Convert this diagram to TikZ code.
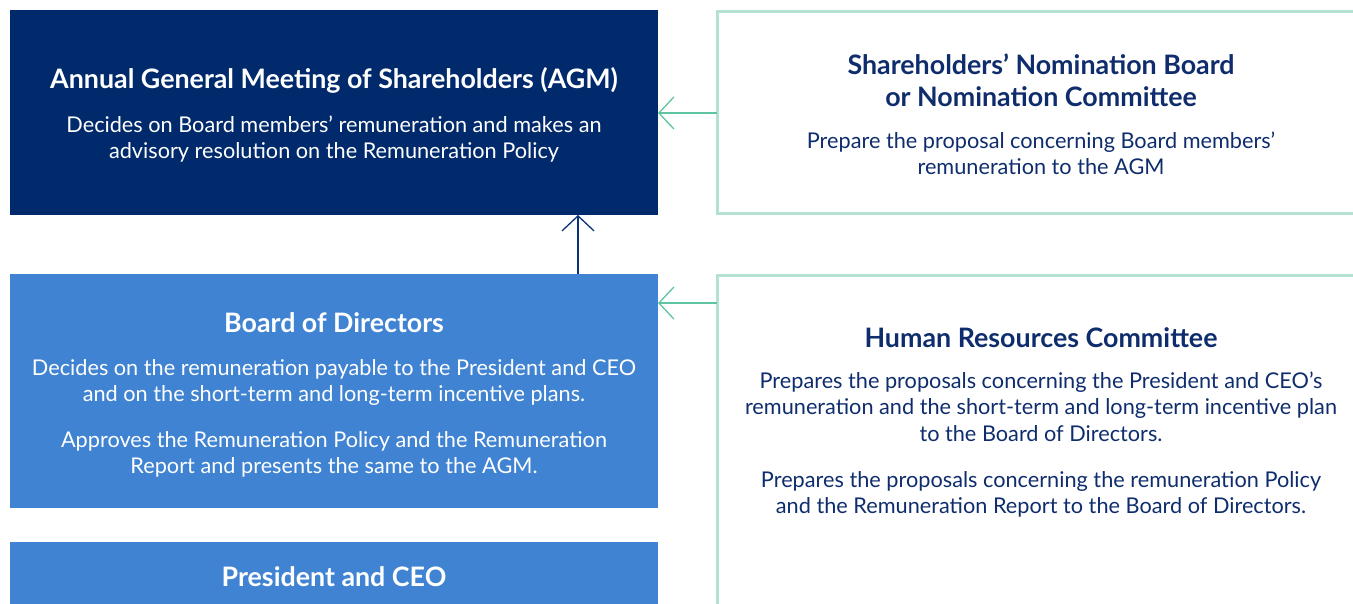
\documentclass[tikz,border=0pt]{standalone}
\usepackage{fontspec}
\setmainfont{Lato}
\usetikzlibrary{arrows.meta}
\definecolor{navybox}{HTML}{002A6C}
\definecolor{bluebox}{HTML}{3F83D2}
\definecolor{navytext}{HTML}{0F2D6D}
\definecolor{greenline}{HTML}{B3E2D3}
\definecolor{greenarrow}{HTML}{5EC4A1}
\definecolor{navyarrow}{HTML}{0B3278}
\tikzset{
  x=1pt, y=-1pt,
  fillbox/.style={draw=none, inner sep=0pt, outer sep=0pt},
  linebox/.style={draw=greenline, line width=3pt, inner sep=0pt, outer sep=0pt},
  ttl/.style={anchor=base, inner sep=0pt, font=\fontsize{26.8}{30}\selectfont\bfseries},
  bdy/.style={anchor=base, inner sep=0pt, font=\fontsize{21.7}{26}\selectfont},
  conn/.style={line width=1.3pt, -{Straight Barb[length=15pt,width=32pt]}},
}
\begin{document}
\begin{tikzpicture}
\useasboundingbox (0,0) rectangle (1353,604);
% boxes
\node[fillbox, fill=navybox, minimum width=648pt, minimum height=205pt, anchor=north west] (agm) at (10,10) {};
\node[fillbox, fill=bluebox, minimum width=648pt, minimum height=234pt, anchor=north west] (bod) at (10,274) {};
\node[fillbox, fill=bluebox, minimum width=648pt, minimum height=80pt, anchor=north west] (pres) at (10,542) {};
\begin{scope}
\clip (0,0) rectangle (1353,604);
\node[linebox, minimum width=660pt, minimum height=202pt, anchor=north west] (snb) at (717,11.5) {};
\node[linebox, minimum width=660pt, minimum height=360pt, anchor=north west] (hrc) at (717,275.5) {};
\end{scope}
% connectors
\coordinate (snbL) at (snb.west |- 0,113);
\coordinate (agmR) at (agm.east |- 0,113);
\draw[conn, greenarrow] (snbL) -- (agmR);
\coordinate (hrcL) at (hrc.west |- 0,303);
\coordinate (bodR) at (bod.east |- 0,303);
\draw[conn, greenarrow] (hrcL) -- (bodR);
\coordinate (bodT) at (bod.north -| 578,0);
\coordinate (agmB) at (agm.south -| 578,0);
\draw[conn, navyarrow] (bodT) -- (agmB);
% left texts
\begin{scope}[white]
\node[ttl] (t1) at (334,88.5) {Annual General Meeting of Shareholders (AGM)};
\node[bdy] (t2) at (334,132.5) {Decides on Board members’ remuneration and makes an};
\node[bdy] (t3) at (334,158.5) {advisory resolution on the Remuneration Policy};
\node[ttl] (t4) at (334,333) {Board of Directors};
\node[bdy] (t5) at (334,375.5) {Decides on the remuneration payable to the President and CEO};
\node[bdy] (t6) at (334,401.5) {and on the short-term and long-term incentive plans.};
\node[bdy] (t7) at (334,447) {Approves the Remuneration Policy and the Remuneration};
\node[bdy] (t8) at (334,473) {Report and presents the same to the AGM.};
\node[ttl] (t9) at (334,586) {President and CEO};
\end{scope}
% right texts
\begin{scope}[navytext]
\node[ttl] (s1) at (1041,74.5) {Shareholders’ Nomination Board};
\node[ttl] (s2) at (1041,106.5) {or Nomination Committee};
\node[bdy] (s3) at (1041,148.5) {Prepare the proposal concerning Board members’};
\node[bdy] (s4) at (1041,174.5) {remuneration to the AGM};
\node[ttl] (h1) at (1041,347.5) {Human Resources Committee};
\node[bdy] (h2) at (1041,388.5) {Prepares the proposals concerning the President and CEO’s};
\node[bdy] (h3) at (1041,414.5) {remuneration and the short-term and long-term incentive plan};
\node[bdy] (h4) at (1041,441.5) {to the Board of Directors.};
\node[bdy] (h5) at (1041,487.5) {Prepares the proposals concerning the remuneration Policy};
\node[bdy] (h6) at (1041,513.5) {and the Remuneration Report to the Board of Directors.};
\end{scope}
\end{tikzpicture}
\end{document}
